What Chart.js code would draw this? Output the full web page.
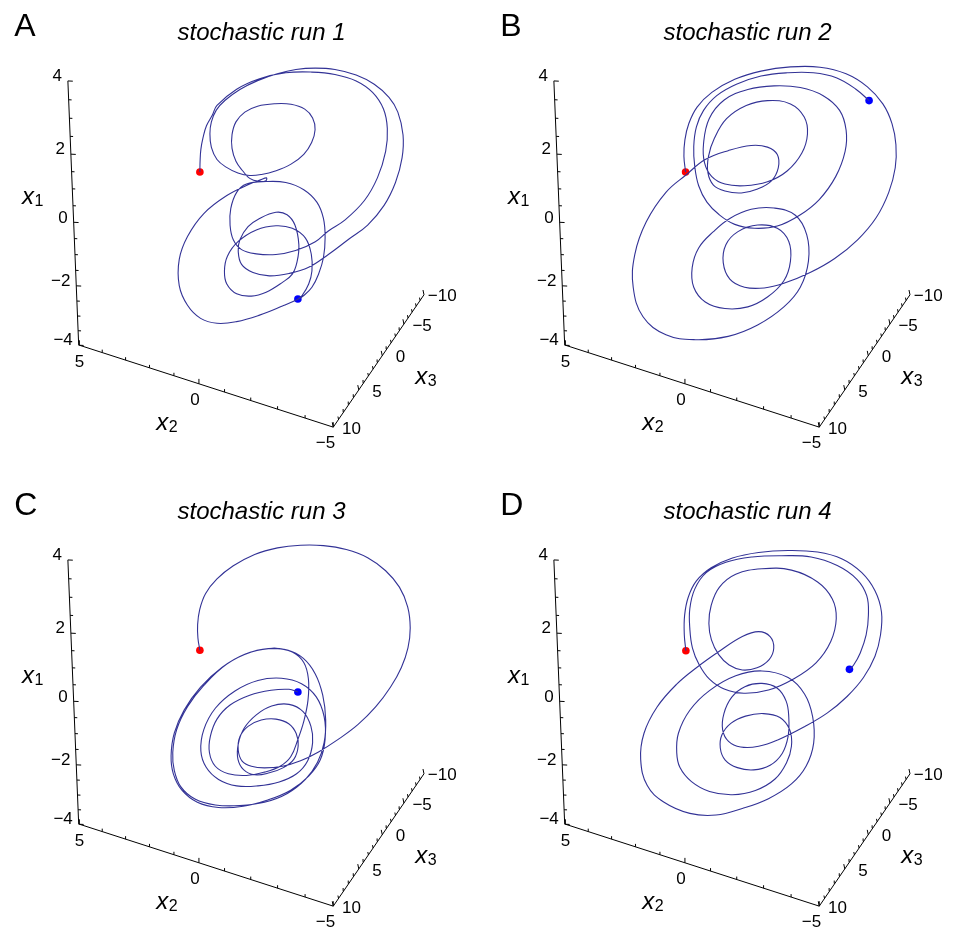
<!DOCTYPE html>
<html><head><meta charset="utf-8">
<script src="https://cdn.jsdelivr.net/npm/chart.js@4.4.1/dist/chart.umd.min.js"></script>
<style>
html,body{margin:0;padding:0;background:#fff;}
body{width:953px;height:935px;overflow:hidden;position:relative;}
canvas{position:absolute;}
</style></head><body>
<canvas id="c1" width="467" height="456" style="left:0px;top:0px"></canvas>
<canvas id="c2" width="467" height="456" style="left:486px;top:0px"></canvas>
<canvas id="c3" width="467" height="456" style="left:0px;top:479px"></canvas>
<canvas id="c4" width="467" height="456" style="left:486px;top:479px"></canvas>
<script>
// ---------- data (projected trajectory points) ----------
const panelLetters = ['A', 'B', 'C', 'D'];
const panelTitles = ['stochastic run 1', 'stochastic run 2', 'stochastic run 3', 'stochastic run 4'];

const run1 = [[199.3,171],[199.5,160],[200.3,148],[202.5,136],[206,124],[212,113],[216.7,103.3],[236.7,86.7],[260,76],[286.7,70],[313.3,69.3],[336.7,71.7],[358.3,78.3],[375,90],[386,106.7],[390,126.7],[388.3,150],[380,176.7],[366.7,200],[346.7,220],[330,231],
[316.7,242],[296.7,251],[276.7,255],[256.7,254.3],[241.7,250],[233.3,240],[230,225],[230.7,208.3],[236.7,191.7],[246.7,183.3],[266.7,180.7],[286.7,181.7],[305,189],[318.3,201.7],[325,218.3],[326.7,238.3],[325,258.3],[320,275],[313.3,288.3],[305,296.7],[299,300.6],
[283.3,307.5],[260,316.7],[236.7,323.3],[216.7,325],[200,320],[186.7,306.7],[178.3,286.7],[178.3,260],[186.7,236.7],[203.3,213.3],[226.7,195],[250,183.3],[261,179],
[267,177],[266.5,179.8],[259,180.5],[250,177.5],
[243,170],[236,160],[232,147],[232,133],[236,120],[245,110],[258,104],[275,101.5],[292,102],[306,107],[314,116],[316.5,128],[313,141],[305,153],[292,163],[276,170],[262,173.5],[250,174.5],[238,172],[226,166],[216.7,158.3],[211,146],[209.5,132],[211,120],[216,108],[225,98],[240,87],[258,78],[278,71],[297,66.7],[316.7,65.3],[336.7,66.7],[358.3,72.3],[376.7,81.7],[391.7,95],[400.7,110],[406,133.3],[405,156.7],[398.3,181.7],[386.7,205],[370,225],[350,240],[330,255],
[310,268],[290,274.3],[270,276.7],[253.3,273.3],[241.7,265],[238.3,251.7],[240,240],[248.3,226.7],[260,218.3],[276.7,212],[288,214.5],[296,225],[300,245],[298.3,261.7],[293.3,275],[283.3,283.3],[266.7,293.3],[251.7,297.3],[236.7,295],[226.7,285],[224.3,271.7],[227.3,256.7],[238.3,241.7],[256.7,230],[276.7,225.7],[293.3,228.3],[306.7,238.3],[312.7,255],[313.3,271.7],[310,285],[303.3,296.7],[299,300.3]];

const run2 = [[199,171],[197.3,155],[198.3,138.3],[202.3,121.7],[210.7,105],[225.7,90],[249,76.7],[275.7,68.3],[305.7,64],[335.7,64.3],[362.3,71],[384,84.3],[399.7,101.7],[409,121.7],[413,143.3],[412.3,166.7],[405.7,191.7],[393,217.3],[374,240],[350.7,259],[325.7,273.3],[299,284.3],[279,289],[259,288.3],[244,280],[237.3,263.3],[240,245],[252.3,231.7],[272.3,225],[292.3,228.3],[304,241.7],[305.7,261.7],[299,281.7],[282.3,298.3],[262.3,308.3],[239,310],[219,303.3],[207.3,288.3],[205.7,268.3],[212.3,248.3],[227.3,231.7],[244,218.3],[265.7,209],[289,207.7],[310.7,215],[322.3,235],[324,261.7],[315.7,288.3],[299,308.3],[272.3,326.7],[242.3,338.3],[209,341.7],[179,336.7],[155.7,318.3],[145.7,288.3],[147.3,255],[159,221.7],[179,191.7],[200,173.5],[219,158.3],[242.3,149.3],[265.7,144],[282.3,145.7],[292.3,153.3],[293.3,166.7],[286.3,180],[272.3,188.3],[255.7,192.3],[239,190.3],[227.3,184.3],[221.7,171.7],[222.3,155],[228.3,136.7],[240.7,116.7],[260.7,103.3],[282.3,98.3],[305.7,101.7],[319.7,115],[323,132.3],[317.3,151.7],[302.3,170],[282.3,181],[259,185],[239,183.3],[225.7,175.7],[218.3,161.7],[217.3,141.7],[223,116.7],[238.3,97.7],[262.3,87],[289,83.3],[315.7,85],[339,93.3],[355.7,108.3],[362.3,128.3],[361.3,150],[351.7,175.7],[335,199],[315,215],[292.3,226],[269,228.3],[249,224.3],[233,214.3],[220.7,201.7],[212.3,185],[208.3,165],[207.3,145],[210,125],[217.3,108.3],[230.7,93.3],[250.7,81.7],[275.7,73.3],[302.3,70],[329,70],[352.3,75],[372.3,86.7],[385.7,98.3]];

const run3 = [[199.3,170.3],[197.3,157.7],[197,144.3],[199,129.3],[205,112.7],[216.7,97.7],[233.3,84.3],[255,72.7],[278.3,66],[301.7,63.3],[325,63.7],[348.3,67.7],[370,76],[388.3,89.3],[402.3,106],[410.7,126],[413.3,147.7],[411,167.7],[404.3,187.7],[393.3,207.7],[378.3,227.7],[360,246],[340,261],[320,273.7],[301.7,282.7],[283.3,288.3],[265,290],
[251.7,288.3],[242.3,283],[238.3,271.7],[240,258.3],[248.3,247.7],[261.7,241.3],[276.7,240.3],[289.7,245],[297.3,255],[299.3,267.7],[295,281],[284.3,289.7],[270,295],
[255,297],[243.7,291.7],[238,281],[238.3,266],[244.3,249.7],[256.7,236],[272.3,227],[290,225.3],[304.3,232.7],[312.3,247.7],[314,264.3],[309,282.7],[297.7,296],[280,304.3],[258.3,308.3],
[236.7,308.3],[218.3,301.7],[205.7,289.3],[200.3,272.7],[203.3,251],[215,229.3],[235,211.7],[258.3,201],[282.3,198.7],[302.7,204.3],[317.7,217.7],[325.7,237.7],[326.7,261],[321.7,282],[310,298.3],[291.7,312.7],[268.3,322.7],
[243.3,329],[218.3,330.3],[196.7,325],[181,312.7],[172.3,296],[170,277.7],[173.3,254.3],[183.3,231],[200,207.7],[221.7,187.7],[245,174.3],[268.3,168.7],[288.3,170],[304.3,178.3],[316.7,194.3],[324.3,216],[327.3,241],[325.7,264.3],[319,284.3],[306.7,301.7],[288.3,316],[265,325],
[240,328.3],[215,327.7],[194.3,321.7],[180,309.3],[173.3,292.7],[171.7,274.3],[175.7,251],[186.7,227.7],[203.3,206],[226.7,184.3],[251.7,172],[275,168.3],[293.3,172],[305,182.7],[309.7,199.3],[309.3,221],[305,242.7],[299,261],[291.7,278.7],[281,288.3],
[265,294.3],[246.7,297.7],[228.3,296],[215,288.3],[209,274.3],[210,257.7],[216.7,240.3],[230,226],[250,216],[271.7,211],[290,210],[299,212.7]];

const run4 = [[199.3,170.7],[197.7,154.7],[198,134.7],[201.7,116.3],[210,99.7],[225,86.3],[246.7,76.3],[273.3,70.7],[303.3,68.7],[333.3,70.3],[358.3,77.3],[378.3,91.3],[391.7,109.7],[398.3,131.3],[397.3,154.7],[391.7,176.3],[380,198],[363.3,217.3],[343.3,234],[320,248],[293.3,261.3],
[273.3,268],[255,268.7],[242.7,263],[236.7,251.3],[238,234.7],[246,218],[259.3,207.3],[276.7,204],[292,208.7],[301.3,222],[304,238.7],[303.3,258],[297.3,275.3],[285,287.3],[268.3,292],[251.7,289.7],[239.3,282],[234.3,269.7],[236,256.3],[245,244.7],[260,237.3],[278.3,234.7],[295,238.7],[305,251.3],[306.7,268],[301.7,284.7],
[290,301.3],[270,313],[246.7,317.3],[223.3,314],[205,304],[193.3,289.7],[190,274.7],[191.7,254.7],[203.3,231.3],[223.3,211.3],[250,196.3],[276.7,191.3],[303.3,198],[320,214.7],[328.3,238],[329.3,264.7],[321.7,288],[306.7,306.3],[283.3,321.3],[256.7,331.3],
[230,338],[203.3,336.3],[176.7,324.7],[160,308],[153.3,281.3],[156.7,254.7],[170,228],[190,204.7],[210,188],[233.3,171.3],[256.7,156.3],
[273.3,151.3],[285,156.3],[288.7,168],[284,179.7],[271.7,188],[256.7,190.3],[243.3,185.3],[232.7,174.7],[225.3,159.7],[222.7,143],
[225,124.7],[233.3,106.3],[250,93],[276.7,87.3],[306.7,88.7],[333.3,100.7],[348.3,118],[352.3,138],[346.7,161.3],[331.7,183],[308.3,199.7],[283.3,210.7],[258.3,214],[238.3,209.7],[223.3,199.7],[212.7,184.7],[206,168],[203.3,148],[203.3,128],[208.3,108],[220,91.3],
[240,80.7],[266.7,75.3],[296.7,74],[326.7,75.3],[353.3,84],[373.3,98],[383.3,114.7],[385,134.7],[382.7,154.7],[376.7,173],[370,185.3],[365.7,189.7]];

const runStart = [[199.3,171],[199,171],[199.3,170.3],[199.3,170.7]];
const runEnd = [[299,300.3],[385.7,98.3],[299,212.7],[365.7,189.7]];

// axis ticks (data values) and labelled ticks
const x1Ticks = [4,3.5,3,2.5,2,1.5,1,0.5,0,-0.5,-1,-1.5,-2,-2.5,-3,-3.5,-4];
const x1Labels = [4,2,0,-2,-4];
const x2Ticks = [5,4,3,2,1,0,-1,-2,-3,-4,-5];
const x2Labels = [5,0,-5];
const x3Ticks = [-10,-9,-8,-7,-6,-5,-4,-3,-2,-1,0,1,2,3,4,5,6,7,8,9,10];
const x3Labels = [-10,-5,0,5,10];

// ---------- projection geometry of the three box edges ----------
const AXES = {
  x1: {v0: 4, v1: -4, p0: [65, 78.3], p1: [76, 347.3], k: 1.15, dir: [1, 0.05], major: x1Labels},
  x2: {v0: 5, v1: -5, p0: [76.7, 347.3], p1: [335, 430.7], k: 0.89, dir: [0, -1], major: x2Labels},
  x3: {v0: -10, v1: 10, p0: [427.3, 296], p1: [335, 430.7], k: 0.852, dir: [-0.2, -0.98], major: x3Labels}
};
function axisPoint(ax, v) {
  const s = (v - ax.v0) / (ax.v1 - ax.v0);
  const f = s * ax.k / (1 + (ax.k - 1) * s);
  return [ax.p0[0] + (ax.p1[0] - ax.p0[0]) * f, ax.p0[1] + (ax.p1[1] - ax.p0[1]) * f];
}
function axisDataset(ax, ticks) {
  const pts = [];
  const a = axisPoint(ax, ax.v0), b = axisPoint(ax, ax.v1);
  pts.push({x: a[0], y: a[1]}, {x: b[0], y: b[1]}, {x: null, y: null});
  ticks.forEach(v => {
    const p = axisPoint(ax, v);
    const len = ax.major.includes(v) ? 5 : 3;
    pts.push({x: p[0], y: p[1]}, {x: p[0] + ax.dir[0] * len, y: p[1] + ax.dir[1] * len}, {x: null, y: null});
  });
  return pts;
}
const fmt = v => (v < 0 ? '\u2212' + Math.abs(v) : String(v));
const FONT = '"Liberation Sans", Arial, Helvetica, sans-serif';

function drawAxisTitle(ctx, sub, px, py) {
  ctx.textAlign = 'left';
  ctx.textBaseline = 'alphabetic';
  ctx.font = 'italic 24px ' + FONT;
  ctx.fillText('x', px, py);
  const w = ctx.measureText('x').width;
  ctx.font = '16px ' + FONT;
  ctx.fillText(sub, px + w + 0.5, py + 2);
}

const textPlugin = {
  id: 'text3d',
  afterDatasetsDraw(chart) {
    const ctx = chart.ctx;
    const sx = chart.scales.x, sy = chart.scales.y;
    const P = (x, y) => [sx.getPixelForValue(x), sy.getPixelForValue(y)];
    const i = chart.options.plugins.text3d.panel;
    ctx.save();
    ctx.fillStyle = '#000';
    // panel letter
    ctx.font = '32px ' + FONT;
    ctx.textAlign = 'left'; ctx.textBaseline = 'alphabetic';
    let q = P(10.5, 32.5); ctx.fillText(panelLetters[i], q[0], q[1]);
    // title
    ctx.font = 'italic 24px ' + FONT;
    ctx.textAlign = 'center';
    q = P(262, 36.5); ctx.fillText(panelTitles[i], q[0], q[1]);
    // tick labels
    ctx.font = '17px ' + FONT;
    ctx.textAlign = 'right'; ctx.textBaseline = 'middle';
    x1Labels.forEach(v => { const p = axisPoint(AXES.x1, v); q = P(p[0] - 6, p[1] - 4.5); ctx.fillText(fmt(v), q[0], q[1]); });
    ctx.textAlign = 'center';
    x2Labels.forEach(v => { const p = axisPoint(AXES.x2, v); const s = (5 - v) / 10; q = P(p[0] - 8 * s, p[1] + 17.5 - 1.5 * s); ctx.fillText(fmt(v), q[0], q[1]); });
    x3Labels.forEach(v => { const p = axisPoint(AXES.x3, v); q = P(p[0] + 18.5, p[1] + 2); ctx.fillText(fmt(v), q[0], q[1]); });
    // axis titles
    q = P(18.3, 204); drawAxisTitle(ctx, '1', q[0], q[1]);
    q = P(155, 433.3); drawAxisTitle(ctx, '2', q[0], q[1]);
    q = P(418.3, 386.7); drawAxisTitle(ctx, '3', q[0], q[1]);
    ctx.restore();
  }
};

const runs = [run1, run2, run3, run4];
const axisPts = [].concat(axisDataset(AXES.x1, x1Ticks), axisDataset(AXES.x2, x2Ticks), axisDataset(AXES.x3, x3Ticks));

runs.forEach((run, i) => {
  const cv = document.getElementById('c' + (i + 1));
  new Chart(cv, {
    type: 'scatter',
    data: {
      datasets: [
        {data: axisPts, showLine: true, borderColor: '#000', borderWidth: 1, pointRadius: 0, tension: 0, spanGaps: false},
        {data: run.map(p => ({x: p[0], y: p[1]})), showLine: true, borderColor: 'rgb(50,50,150)', borderWidth: 1.1, pointRadius: 0, tension: 0.4},
        {data: [{x: runStart[i][0], y: runStart[i][1]}], pointRadius: 3.8, pointBackgroundColor: '#ff0000', pointBorderWidth: 0, borderWidth: 0},
        {data: [{x: runEnd[i][0], y: runEnd[i][1]}], pointRadius: 3.8, pointBackgroundColor: '#0000ff', pointBorderWidth: 0, borderWidth: 0}
      ]
    },
    options: {
      responsive: false,
      animation: false,
      events: [],
      layout: {padding: 0},
      scales: {
        x: {type: 'linear', min: 0, max: cv.width, display: false},
        y: {type: 'linear', min: 0, max: cv.height, reverse: true, display: false}
      },
      plugins: {legend: {display: false}, tooltip: {enabled: false}, title: {display: false}, text3d: {panel: i}}
    },
    plugins: [textPlugin]
  });
});
</script>
</body></html>
